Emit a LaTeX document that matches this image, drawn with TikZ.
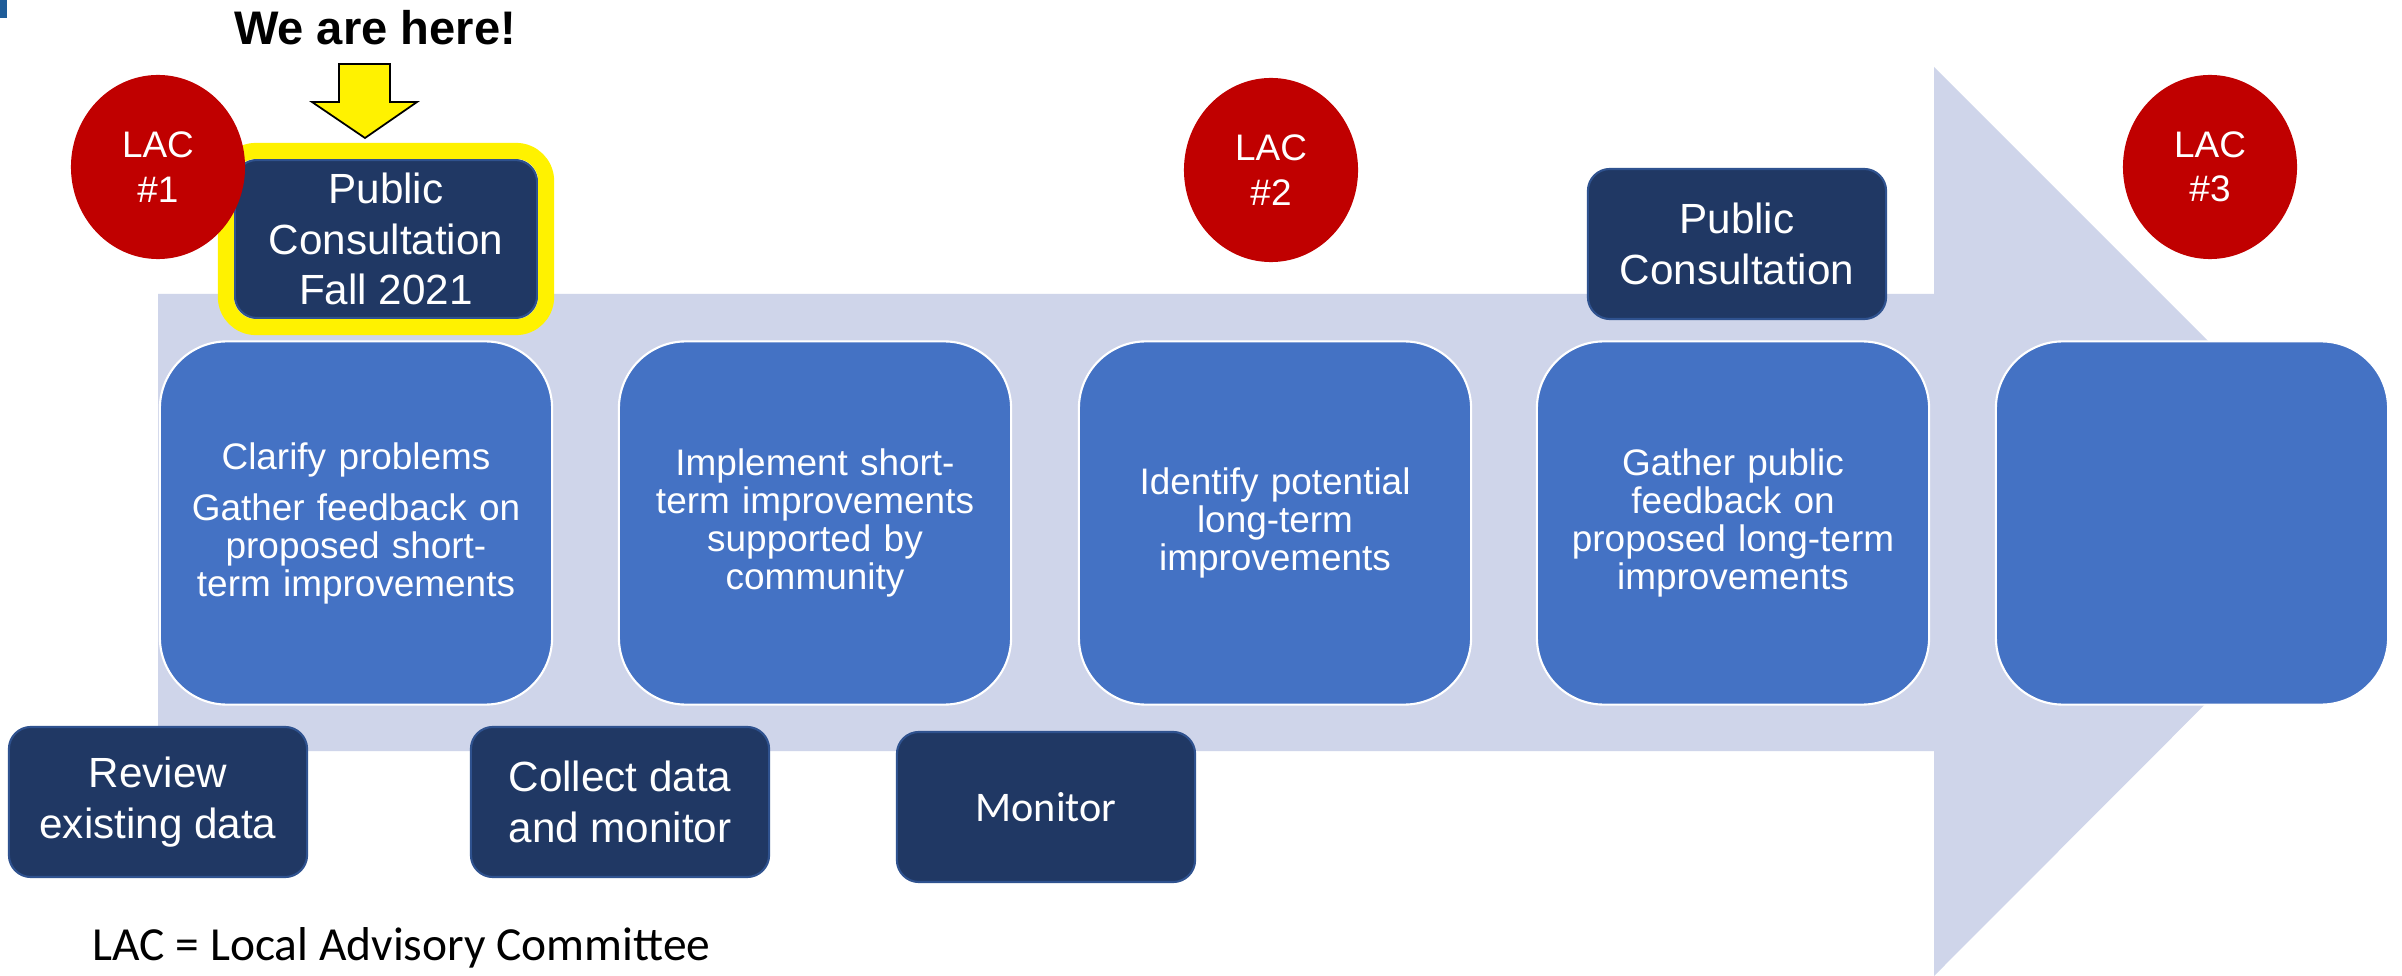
\documentclass[tikz,border=0pt]{standalone}
\usepackage{fontspec}
\setmainfont{Liberation Sans}
\newfontfamily\calibri{Carlito}
\usetikzlibrary{positioning, shapes.geometric}

\definecolor{track}{RGB}{207,213,234}
\definecolor{stepblue}{RGB}{68,114,196}
\definecolor{navy}{RGB}{32,56,100}
\definecolor{navyedge}{RGB}{47,82,143}
\definecolor{lacred}{RGB}{192,0,0}
\definecolor{marker}{RGB}{31,93,153}

\begin{document}
\begin{tikzpicture}[
    x=0.01cm, y=-0.01cm,
    stepbox/.style={rectangle, rounded corners=0.67cm, fill=stepblue, draw=white, line width=0.6pt,
        minimum width=3.92cm, minimum height=3.63cm, text width=3.5cm, align=center,
        text=white, font=\fontsize{10.5}{10.8}\selectfont},
    taskbox/.style={rectangle, rounded corners=0.22cm, fill=navy, draw=navyedge, line width=0.6pt,
        minimum width=2.98cm, minimum height=1.5cm, align=center,
        text=white, font=\fontsize{12}{14.4}\selectfont},
    lac/.style={ellipse, fill=lacred, minimum width=1.74cm, minimum height=1.84cm, inner sep=0pt,
        align=center, text=white, font=\fontsize{10.5}{12.6}\selectfont}
]

    % --- Fundo e margens ---
    \fill[white] (0,0) rectangle (2402,976);
    \useasboundingbox (0,0) rectangle (2402,976);
    \fill[marker] (0,0) rectangle (7,18);

    % --- Seta grande (linha do tempo) ---
    \fill[track] (158,294) -- (1934,294) -- (1934,67) -- (2388,521)
        -- (1934,976) -- (1934,751) -- (158,751) -- cycle;

    % --- Etapas principais ---
    \node[stepbox] (step1) at (356,523) {Clarify problems\\[3.7pt] Gather feedback on\\ proposed short-\\ term improvements};
    \node[stepbox] (step2) at (815,523) {Implement short-\\ term improvements\\ supported by\\ community};
    \node[stepbox] (step3) at (1275,523) {Identify potential\\ long-term\\ improvements};
    \node[stepbox] (step4) at (1733,523) {Gather public\\ feedback on\\ proposed long-term\\ improvements};
    \node[stepbox] (step5) at (2192,523) {};

    % --- Consultas publicas (acima da seta) ---
    \node[taskbox, minimum width=3.02cm, minimum height=1.58cm] (consult1) at (386,239) {Public\\ Consultation\\ Fall 2021};
    \draw[yellow, line width=0.16cm, rounded corners=0.3cm]
        ([shift={(-8,-8)}]consult1.north west) rectangle ([shift={(8,8)}]consult1.south east);
    \node[taskbox] (consult2) at (1737,244) {Public\\ Consultation};

    % --- Tarefas de apoio (abaixo da seta) ---
    \node[taskbox] (review) at (158,802) {Review\\ existing data};
    \node[taskbox] (collect) at (620,802) {Collect data\\ and monitor};
    \node[taskbox, font=\calibri\fontsize{12}{14.4}\selectfont] (monitor) at (1046,807) {Monitor};

    % --- Reunioes do LAC ---
    \node[lac] (lac1) at (158,167) {LAC\\ \#1};
    \node[lac] (lac2) at (1271,170) {LAC\\ \#2};
    \node[lac] (lac3) at (2210,167) {LAC\\ \#3};

    % --- Indicador "estamos aqui" ---
    \node[anchor=base, inner sep=0pt, font=\bfseries\fontsize{13.4}{16}\selectfont] (here) at (375,45) {We are here!};
    \draw[fill=yellow, draw=black, line width=0.5pt] (339,64) -- (390,64) -- (390,102) -- (417,102)
        -- (365,138) -- (312,102) -- (339,102) -- cycle;

    % --- Legenda ---
    \node[anchor=base west, inner sep=0pt, font=\calibri\fontsize{13.5}{16}\selectfont] (legend) at (92,960) {LAC = Local Advisory Committee};

\end{tikzpicture}
\end{document}
